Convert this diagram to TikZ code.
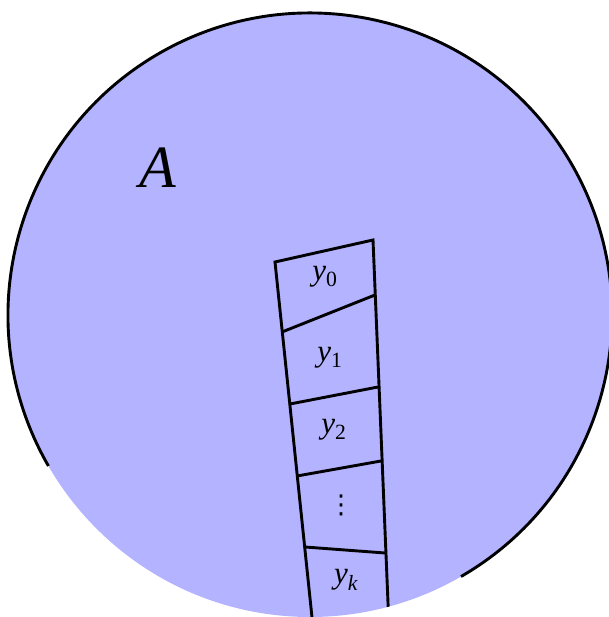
\documentclass[tikz,border=0pt]{standalone}
\usepackage{fontspec}
\setmainfont{Liberation Serif}
\newfontfamily\symfont{DejaVu Sans}
\usetikzlibrary{calc}
\definecolor{discBlue}{RGB}{179,179,255}
\newcommand{\ycell}[1]{{\itshape y}\textsubscript{#1}}

\begin{document}
\begin{tikzpicture}[x=1pt,y=1pt,line width=2.9pt,
  cell/.style={font=\fontsize{31}{31}\selectfont,inner sep=0pt}]
\useasboundingbox (0,0) rectangle (608,617);
\coordinate (ctr) at (310,302);
\fill[discBlue] (ctr) circle (302);
\draw ([shift={(300:302)}]ctr) arc[start angle=300,end angle=570,radius=302];
% the ladder of cells
\coordinate (tl) at (275,355);
\coordinate (tr) at (373,377);
\coordinate (bl) at (313,-10);
\coordinate (br) at (389,-10);
\begin{scope}
  \clip (ctr) circle (302);
  \draw (bl) -- (tl) -- (tr) -- (br);
  \draw (282,285) -- (375,322);
  \draw (290,213) -- (378,230);
  \draw (297,141) -- (381,156);
  \draw (305,70) -- (385,64);
\end{scope}
\node[cell] (y0) at (325,340) {\ycell{0}};
\node[cell] (y1) at (330,259) {\ycell{1}};
\node[cell] (y2) at (334,187) {\ycell{2}};
\node[cell,font=\fontsize{26}{26}\symfont] (dots) at (341,112) {⋮};
\node[cell] (yk) at (346,37) {\ycell{\itshape k}};
\node[font=\fontsize{60}{60}\selectfont\itshape,inner sep=0pt] (setA) at (158,449) {A};
\end{tikzpicture}
\end{document}
